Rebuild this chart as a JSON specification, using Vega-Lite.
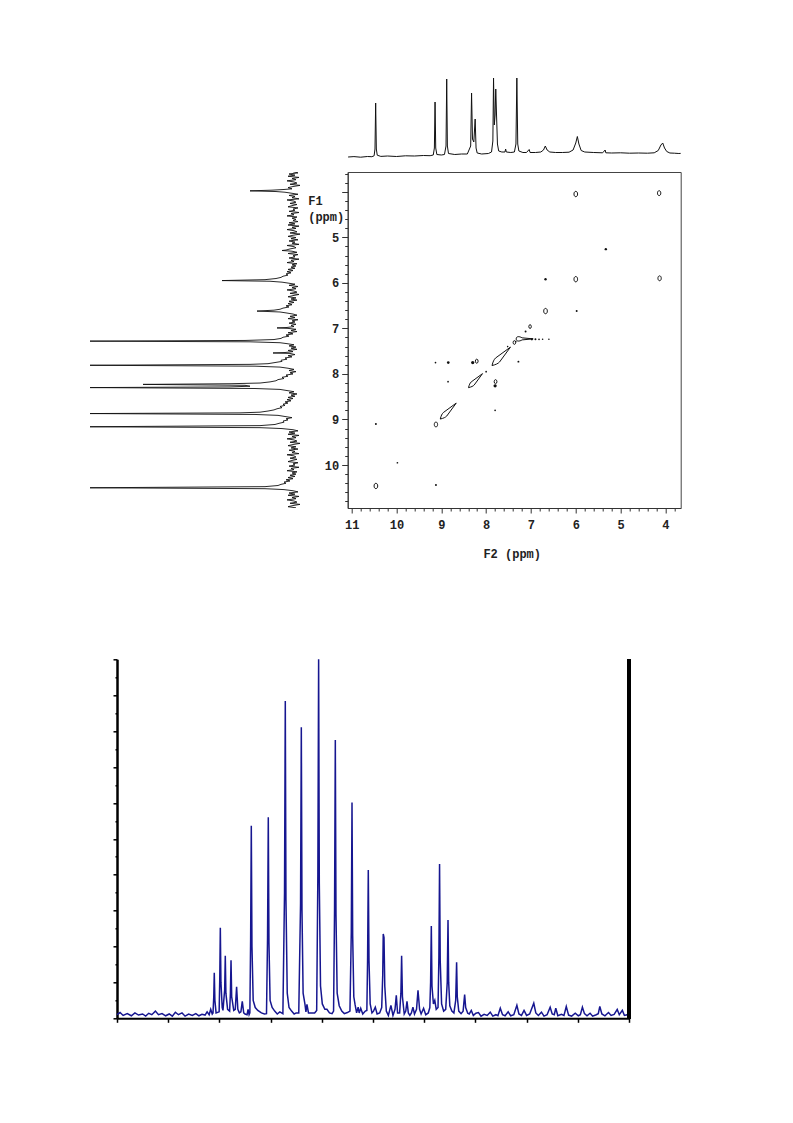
{
  "$schema": "https://vega.github.io/schema/vega-lite/v6.json",
  "background": "white",
  "padding": {"left": 86, "top": 75, "right": 4, "bottom": 4},
  "config": {"view": {"stroke": null}, "axis": {"grid": false}},
  "datasets": {
    "top1h": [
      {"ppm":11.08,"intensity":0},{"ppm":10.95,"intensity":0.4},{"ppm":10.8,"intensity":-0.2},{"ppm":10.65,"intensity":0.5},{"ppm":10.55,"intensity":0.3},{"ppm":10.5,"intensity":1.2},{"ppm":10.48,"intensity":8},{"ppm":10.465,"intensity":54},{"ppm":10.45,"intensity":8},{"ppm":10.43,"intensity":1.8},{"ppm":10.35,"intensity":0.6},{"ppm":10.2,"intensity":1},{"ppm":10.0,"intensity":0.5},{"ppm":9.8,"intensity":1.2},{"ppm":9.6,"intensity":1},{"ppm":9.4,"intensity":1.5},{"ppm":9.25,"intensity":1.3},{"ppm":9.18,"intensity":2},{"ppm":9.155,"intensity":9},{"ppm":9.14,"intensity":55},{"ppm":9.125,"intensity":9},{"ppm":9.1,"intensity":2.5},{"ppm":9.0,"intensity":2},{"ppm":8.93,"intensity":2.5},{"ppm":8.895,"intensity":11},{"ppm":8.88,"intensity":78},{"ppm":8.865,"intensity":11},{"ppm":8.84,"intensity":3.5},{"ppm":8.7,"intensity":2.5},{"ppm":8.55,"intensity":3},{"ppm":8.42,"intensity":3},{"ppm":8.345,"intensity":11},{"ppm":8.325,"intensity":64},{"ppm":8.305,"intensity":18},{"ppm":8.275,"intensity":15},{"ppm":8.245,"intensity":38},{"ppm":8.225,"intensity":9},{"ppm":8.2,"intensity":4},{"ppm":8.1,"intensity":3},{"ppm":7.95,"intensity":3.5},{"ppm":7.88,"intensity":5},{"ppm":7.85,"intensity":16},{"ppm":7.835,"intensity":79},{"ppm":7.818,"intensity":32},{"ppm":7.8,"intensity":42},{"ppm":7.785,"intensity":68},{"ppm":7.768,"intensity":42},{"ppm":7.748,"intensity":13},{"ppm":7.72,"intensity":6},{"ppm":7.65,"intensity":5},{"ppm":7.58,"intensity":5},{"ppm":7.565,"intensity":8},{"ppm":7.55,"intensity":5},{"ppm":7.45,"intensity":4.5},{"ppm":7.37,"intensity":5},{"ppm":7.335,"intensity":13},{"ppm":7.315,"intensity":79},{"ppm":7.295,"intensity":13},{"ppm":7.27,"intensity":6},{"ppm":7.18,"intensity":4.5},{"ppm":7.1,"intensity":4.5},{"ppm":7.04,"intensity":7.5},{"ppm":7.02,"intensity":4.5},{"ppm":6.9,"intensity":4.5},{"ppm":6.78,"intensity":5},{"ppm":6.72,"intensity":7},{"ppm":6.68,"intensity":11},{"ppm":6.64,"intensity":7},{"ppm":6.58,"intensity":5},{"ppm":6.45,"intensity":4.5},{"ppm":6.3,"intensity":4.5},{"ppm":6.15,"intensity":4.8},{"ppm":6.06,"intensity":7},{"ppm":6.0,"intensity":14},{"ppm":5.965,"intensity":20.5},{"ppm":5.93,"intensity":13},{"ppm":5.88,"intensity":6.5},{"ppm":5.8,"intensity":5},{"ppm":5.6,"intensity":4.5},{"ppm":5.4,"intensity":4.2},{"ppm":5.345,"intensity":7},{"ppm":5.33,"intensity":4.2},{"ppm":5.2,"intensity":4},{"ppm":5.0,"intensity":4.2},{"ppm":4.8,"intensity":3.8},{"ppm":4.6,"intensity":4},{"ppm":4.4,"intensity":3.8},{"ppm":4.25,"intensity":4.2},{"ppm":4.16,"intensity":6.5},{"ppm":4.1,"intensity":12},{"ppm":4.06,"intensity":14},{"ppm":4.02,"intensity":9},{"ppm":3.97,"intensity":5.5},{"ppm":3.9,"intensity":4},{"ppm":3.8,"intensity":3.8},{"ppm":3.7,"intensity":3.5},{"ppm":3.66,"intensity":3.6}
    ],
    "left1h": [
      {"ppm":3.56,"intensity":-3},{"ppm":3.585,"intensity":-8},{"ppm":3.61,"intensity":1},{"ppm":3.635,"intensity":-5},{"ppm":3.66,"intensity":2},{"ppm":3.685,"intensity":-9},{"ppm":3.71,"intensity":-2},{"ppm":3.735,"intensity":-6},{"ppm":3.76,"intensity":3},{"ppm":3.785,"intensity":-4},{"ppm":3.81,"intensity":-7},{"ppm":3.835,"intensity":0},{"ppm":3.86,"intensity":-10},{"ppm":3.885,"intensity":-3},{"ppm":3.91,"intensity":2},{"ppm":3.935,"intensity":-2},{"ppm":3.95,"intensity":6},{"ppm":3.965,"intensity":18},{"ppm":3.98,"intensity":40},{"ppm":3.995,"intensity":14},{"ppm":4.01,"intensity":5},
      {"ppm":4.03,"intensity":-1},{"ppm":4.055,"intensity":-8},{"ppm":4.08,"intensity":1},{"ppm":4.105,"intensity":-5},{"ppm":4.13,"intensity":-2},{"ppm":4.155,"intensity":-9},{"ppm":4.18,"intensity":3},{"ppm":4.205,"intensity":-4},{"ppm":4.23,"intensity":-6},{"ppm":4.255,"intensity":0},{"ppm":4.28,"intensity":-7},{"ppm":4.305,"intensity":-2},{"ppm":4.33,"intensity":2},{"ppm":4.355,"intensity":-8},{"ppm":4.38,"intensity":-3},{"ppm":4.405,"intensity":-5},{"ppm":4.43,"intensity":1},{"ppm":4.455,"intensity":-9},{"ppm":4.48,"intensity":-1},{"ppm":4.505,"intensity":-4},{"ppm":4.53,"intensity":3},{"ppm":4.555,"intensity":-7},{"ppm":4.58,"intensity":-2},{"ppm":4.605,"intensity":-6},{"ppm":4.63,"intensity":-3},{"ppm":4.655,"intensity":-8},{"ppm":4.68,"intensity":1},{"ppm":4.705,"intensity":-5},{"ppm":4.73,"intensity":2},{"ppm":4.755,"intensity":-9},{"ppm":4.78,"intensity":-2},{"ppm":4.805,"intensity":-6},{"ppm":4.83,"intensity":3},{"ppm":4.855,"intensity":-4},{"ppm":4.88,"intensity":-7},{"ppm":4.905,"intensity":0},{"ppm":4.93,"intensity":-10},{"ppm":4.955,"intensity":-3},{"ppm":4.98,"intensity":2},{"ppm":5.005,"intensity":-6},{"ppm":5.03,"intensity":-1},{"ppm":5.055,"intensity":-8},{"ppm":5.08,"intensity":1},{"ppm":5.105,"intensity":-5},{"ppm":5.13,"intensity":-2},{"ppm":5.155,"intensity":-9},{"ppm":5.18,"intensity":3},{"ppm":5.205,"intensity":-4},{"ppm":5.23,"intensity":-6},{"ppm":5.255,"intensity":0},{"ppm":5.28,"intensity":4},{"ppm":5.29,"intensity":8},{"ppm":5.305,"intensity":-2},{"ppm":5.33,"intensity":-7},{"ppm":5.355,"intensity":2},{"ppm":5.38,"intensity":-8},{"ppm":5.405,"intensity":-3},{"ppm":5.43,"intensity":-5},{"ppm":5.455,"intensity":1},{"ppm":5.48,"intensity":-9},{"ppm":5.505,"intensity":-1},{"ppm":5.53,"intensity":-4},{"ppm":5.555,"intensity":3},{"ppm":5.58,"intensity":-7},{"ppm":5.605,"intensity":-2},{"ppm":5.63,"intensity":-6},{"ppm":5.655,"intensity":-1},{"ppm":5.68,"intensity":-5},{"ppm":5.705,"intensity":2},{"ppm":5.73,"intensity":-3},{"ppm":5.755,"intensity":3},{"ppm":5.78,"intensity":-1},{"ppm":5.805,"intensity":4},{"ppm":5.83,"intensity":2},{"ppm":5.855,"intensity":7},{"ppm":5.88,"intensity":9},{"ppm":5.905,"intensity":14},{"ppm":5.93,"intensity":25},{"ppm":5.95,"intensity":68},{"ppm":5.965,"intensity":20},{"ppm":5.985,"intensity":8},
      {"ppm":6.005,"intensity":2},{"ppm":6.03,"intensity":-5},{"ppm":6.055,"intensity":1},{"ppm":6.08,"intensity":-8},{"ppm":6.105,"intensity":-2},{"ppm":6.13,"intensity":-6},{"ppm":6.155,"intensity":3},{"ppm":6.18,"intensity":-4},{"ppm":6.205,"intensity":-7},{"ppm":6.23,"intensity":0},{"ppm":6.255,"intensity":-9},{"ppm":6.28,"intensity":-3},{"ppm":6.305,"intensity":2},{"ppm":6.33,"intensity":-6},{"ppm":6.355,"intensity":-1},{"ppm":6.38,"intensity":-7},{"ppm":6.405,"intensity":1},{"ppm":6.43,"intensity":-4},{"ppm":6.455,"intensity":2},{"ppm":6.48,"intensity":-2},{"ppm":6.505,"intensity":4},{"ppm":6.53,"intensity":1},{"ppm":6.555,"intensity":7},{"ppm":6.58,"intensity":10},{"ppm":6.6,"intensity":16},{"ppm":6.62,"intensity":33},{"ppm":6.64,"intensity":10},{"ppm":6.66,"intensity":4},
      {"ppm":6.685,"intensity":-3},{"ppm":6.71,"intensity":-7},{"ppm":6.735,"intensity":0},{"ppm":6.76,"intensity":-5},{"ppm":6.785,"intensity":2},{"ppm":6.81,"intensity":-8},{"ppm":6.835,"intensity":-2},{"ppm":6.86,"intensity":-5},{"ppm":6.885,"intensity":1},{"ppm":6.91,"intensity":-6},{"ppm":6.935,"intensity":-1},{"ppm":6.96,"intensity":-4},{"ppm":6.98,"intensity":3},{"ppm":6.99,"intensity":13},{"ppm":7.0,"intensity":2},{"ppm":7.02,"intensity":-6},{"ppm":7.045,"intensity":-1},{"ppm":7.07,"intensity":-7},{"ppm":7.095,"intensity":2},{"ppm":7.12,"intensity":-3},{"ppm":7.145,"intensity":4},{"ppm":7.17,"intensity":1},{"ppm":7.195,"intensity":7},{"ppm":7.22,"intensity":9},{"ppm":7.245,"intensity":16},{"ppm":7.265,"intensity":45},{"ppm":7.28,"intensity":200},{"ppm":7.295,"intensity":40},{"ppm":7.315,"intensity":10},
      {"ppm":7.335,"intensity":3},{"ppm":7.36,"intensity":-4},{"ppm":7.385,"intensity":1},{"ppm":7.41,"intensity":-6},{"ppm":7.435,"intensity":-1},{"ppm":7.46,"intensity":-7},{"ppm":7.485,"intensity":2},{"ppm":7.51,"intensity":-3},{"ppm":7.53,"intensity":5},{"ppm":7.54,"intensity":17},{"ppm":7.55,"intensity":0},{"ppm":7.575,"intensity":-5},{"ppm":7.6,"intensity":2},{"ppm":7.625,"intensity":-2},{"ppm":7.65,"intensity":5},{"ppm":7.675,"intensity":3},{"ppm":7.7,"intensity":9},{"ppm":7.725,"intensity":8},{"ppm":7.75,"intensity":15},{"ppm":7.775,"intensity":22},{"ppm":7.79,"intensity":40},{"ppm":7.81,"intensity":200},{"ppm":7.83,"intensity":35},{"ppm":7.85,"intensity":10},
      {"ppm":7.875,"intensity":2},{"ppm":7.9,"intensity":-4},{"ppm":7.925,"intensity":1},{"ppm":7.95,"intensity":-6},{"ppm":7.975,"intensity":0},{"ppm":8.0,"intensity":-3},{"ppm":8.025,"intensity":4},{"ppm":8.05,"intensity":2},{"ppm":8.075,"intensity":8},{"ppm":8.1,"intensity":6},{"ppm":8.125,"intensity":12},{"ppm":8.15,"intensity":14},{"ppm":8.175,"intensity":20},{"ppm":8.2,"intensity":30},{"ppm":8.215,"intensity":60},{"ppm":8.23,"intensity":147},{"ppm":8.25,"intensity":45},{"ppm":8.27,"intensity":40},{"ppm":8.285,"intensity":60},{"ppm":8.3,"intensity":200},{"ppm":8.32,"intensity":35},{"ppm":8.34,"intensity":10},
      {"ppm":8.365,"intensity":3},{"ppm":8.39,"intensity":-4},{"ppm":8.415,"intensity":1},{"ppm":8.44,"intensity":-7},{"ppm":8.465,"intensity":-1},{"ppm":8.49,"intensity":-5},{"ppm":8.515,"intensity":2},{"ppm":8.54,"intensity":-3},{"ppm":8.565,"intensity":3},{"ppm":8.59,"intensity":-1},{"ppm":8.615,"intensity":5},{"ppm":8.64,"intensity":2},{"ppm":8.665,"intensity":7},{"ppm":8.69,"intensity":5},{"ppm":8.715,"intensity":10},{"ppm":8.74,"intensity":8},{"ppm":8.765,"intensity":13},{"ppm":8.79,"intensity":16},{"ppm":8.815,"intensity":22},{"ppm":8.84,"intensity":30},{"ppm":8.855,"intensity":50},{"ppm":8.87,"intensity":200},{"ppm":8.89,"intensity":35},{"ppm":8.91,"intensity":12},
      {"ppm":8.935,"intensity":5},{"ppm":8.96,"intensity":-2},{"ppm":8.985,"intensity":4},{"ppm":9.01,"intensity":2},{"ppm":9.035,"intensity":7},{"ppm":9.06,"intensity":6},{"ppm":9.085,"intensity":11},{"ppm":9.11,"intensity":15},{"ppm":9.135,"intensity":30},{"ppm":9.16,"intensity":200},{"ppm":9.18,"intensity":30},{"ppm":9.2,"intensity":8},
      {"ppm":9.225,"intensity":-3},{"ppm":9.25,"intensity":-8},{"ppm":9.275,"intensity":1},{"ppm":9.3,"intensity":-5},{"ppm":9.325,"intensity":2},{"ppm":9.35,"intensity":-9},{"ppm":9.375,"intensity":-2},{"ppm":9.4,"intensity":-6},{"ppm":9.425,"intensity":3},{"ppm":9.45,"intensity":-4},{"ppm":9.475,"intensity":-7},{"ppm":9.5,"intensity":0},{"ppm":9.525,"intensity":-10},{"ppm":9.55,"intensity":-3},{"ppm":9.575,"intensity":2},{"ppm":9.6,"intensity":-6},{"ppm":9.625,"intensity":-1},{"ppm":9.65,"intensity":-8},{"ppm":9.675,"intensity":1},{"ppm":9.7,"intensity":-5},{"ppm":9.725,"intensity":-2},{"ppm":9.75,"intensity":-9},{"ppm":9.775,"intensity":3},{"ppm":9.8,"intensity":-4},{"ppm":9.825,"intensity":-6},{"ppm":9.85,"intensity":0},{"ppm":9.875,"intensity":-7},{"ppm":9.9,"intensity":-2},{"ppm":9.925,"intensity":2},{"ppm":9.95,"intensity":-8},{"ppm":9.975,"intensity":-3},{"ppm":10.0,"intensity":-5},{"ppm":10.025,"intensity":1},{"ppm":10.05,"intensity":-9},{"ppm":10.075,"intensity":-1},{"ppm":10.1,"intensity":-4},{"ppm":10.125,"intensity":3},{"ppm":10.15,"intensity":-7},{"ppm":10.175,"intensity":-2},{"ppm":10.2,"intensity":-6},{"ppm":10.225,"intensity":0},{"ppm":10.25,"intensity":-5},{"ppm":10.275,"intensity":2},{"ppm":10.3,"intensity":-3},{"ppm":10.325,"intensity":4},{"ppm":10.35,"intensity":0},{"ppm":10.375,"intensity":6},{"ppm":10.4,"intensity":4},{"ppm":10.425,"intensity":9},{"ppm":10.45,"intensity":12},{"ppm":10.475,"intensity":25},{"ppm":10.5,"intensity":200},{"ppm":10.52,"intensity":25},{"ppm":10.54,"intensity":6},
      {"ppm":10.565,"intensity":-3},{"ppm":10.59,"intensity":-8},{"ppm":10.615,"intensity":1},{"ppm":10.64,"intensity":-5},{"ppm":10.665,"intensity":2},{"ppm":10.69,"intensity":-9},{"ppm":10.715,"intensity":-2},{"ppm":10.74,"intensity":-6},{"ppm":10.765,"intensity":3},{"ppm":10.79,"intensity":-4},{"ppm":10.815,"intensity":-7},{"ppm":10.84,"intensity":0},{"ppm":10.865,"intensity":-10},{"ppm":10.89,"intensity":-3},{"ppm":10.915,"intensity":2},{"ppm":10.94,"intensity":-6}
    ],
    "cosy": [
      {"f2":6.0,"f1":4.05,"contour":"ellipse","vol":6},
      {"f2":4.14,"f1":4.03,"contour":"ellipse","vol":5},
      {"f2":6.0,"f1":5.92,"contour":"ellipse","vol":6},
      {"f2":4.13,"f1":5.9,"contour":"ellipse","vol":5},
      {"f2":6.675,"f1":6.62,"contour":"ellipse","vol":6},
      {"f2":7.02,"f1":6.96,"contour":"ellipse","vol":3},
      {"f2":7.37,"f1":7.31,"contour":"ellipse","vol":3},
      {"f2":7.14,"f1":7.23,"contour":"streak","vol":60},
      {"f2":7.68,"f1":7.63,"contour":"diagonal","vol":83},
      {"f2":8.21,"f1":7.72,"contour":"ellipse","vol":3.5},
      {"f2":7.79,"f1":8.17,"contour":"ellipse","vol":3.5},
      {"f2":8.25,"f1":8.16,"contour":"diagonal","vol":48},
      {"f2":8.86,"f1":8.83,"contour":"diagonal","vol":62},
      {"f2":9.12,"f1":9.11,"contour":"ellipse","vol":5},
      {"f2":10.46,"f1":10.46,"contour":"ellipse","vol":6},
      {"f2":5.33,"f1":5.26,"contour":"dot","vol":1.2},
      {"f2":6.675,"f1":5.92,"contour":"dot","vol":1.2},
      {"f2":5.98,"f1":6.62,"contour":"dot","vol":0.8},
      {"f2":7.12,"f1":7.07,"contour":"dot","vol":0.8},
      {"f2":8.0,"f1":7.95,"contour":"dot","vol":0.6},
      {"f2":8.3,"f1":7.75,"contour":"dot","vol":2.2},
      {"f2":8.845,"f1":7.75,"contour":"dot","vol":1.5},
      {"f2":9.13,"f1":7.75,"contour":"dot","vol":0.6},
      {"f2":7.28,"f1":7.73,"contour":"dot","vol":0.8},
      {"f2":8.85,"f1":8.17,"contour":"dot","vol":0.6},
      {"f2":7.8,"f1":8.26,"contour":"dot","vol":2.2},
      {"f2":7.8,"f1":8.8,"contour":"dot","vol":0.6},
      {"f2":10.46,"f1":9.1,"contour":"dot","vol":0.8},
      {"f2":9.98,"f1":9.95,"contour":"dot","vol":0.6},
      {"f2":9.12,"f1":10.44,"contour":"dot","vol":0.8},
      {"f2":6.98,"f1":7.24,"contour":"dot","vol":1},
      {"f2":6.9,"f1":7.24,"contour":"dot","vol":0.8},
      {"f2":6.82,"f1":7.24,"contour":"dot","vol":0.6},
      {"f2":6.74,"f1":7.24,"contour":"dot","vol":0.5},
      {"f2":6.6,"f1":7.24,"contour":"dot","vol":0.5},
      {"f2":7.34,"f1":7.29,"contour":"dot","vol":0.6},
      {"f2":7.52,"f1":7.4,"contour":"dot","vol":0.5}
    ],
    "ms": [
      {"mz":0,"abundance":1.0},{"mz":0.6,"abundance":1.6},{"mz":1.2,"abundance":0.8},{"mz":2.0,"abundance":1.3},{"mz":2.8,"abundance":0.7},{"mz":3.5,"abundance":1.5},{"mz":4.2,"abundance":0.9},{"mz":5.0,"abundance":1.2},{"mz":5.6,"abundance":0.6},{"mz":6.2,"abundance":1.4},{"mz":6.8,"abundance":1.0},{"mz":7.5,"abundance":2.0},{"mz":8.1,"abundance":1.0},{"mz":8.8,"abundance":1.3},{"mz":9.5,"abundance":0.7},{"mz":10.2,"abundance":1.2},{"mz":10.8,"abundance":0.6},{"mz":11.4,"abundance":1.7},{"mz":12.0,"abundance":1.0},{"mz":12.7,"abundance":1.5},{"mz":13.3,"abundance":0.6},{"mz":14.0,"abundance":1.2},{"mz":14.7,"abundance":0.8},{"mz":15.4,"abundance":1.3},{"mz":16.0,"abundance":0.7},{"mz":16.6,"abundance":1.1},{"mz":17.2,"abundance":0.9},{"mz":17.6,"abundance":1.8},{"mz":18.0,"abundance":1.0},{"mz":18.3,"abundance":2.5},{"mz":18.6,"abundance":1.2},
      {"mz":18.75,"abundance":1.5},{"mz":18.9,"abundance":6},{"mz":19.0,"abundance":12.7},{"mz":19.12,"abundance":5},{"mz":19.35,"abundance":1.5},
      {"mz":19.95,"abundance":1.8},{"mz":20.07,"abundance":11},{"mz":20.18,"abundance":25.2},{"mz":20.3,"abundance":10},{"mz":20.55,"abundance":3},
      {"mz":20.7,"abundance":2.2},{"mz":21.03,"abundance":8},{"mz":21.15,"abundance":17.4},{"mz":21.27,"abundance":7},{"mz":21.6,"abundance":2.5},
      {"mz":22.0,"abundance":2},{"mz":22.15,"abundance":7},{"mz":22.27,"abundance":16.2},{"mz":22.4,"abundance":6},{"mz":22.8,"abundance":2.2},
      {"mz":23.1,"abundance":2.5},{"mz":23.36,"abundance":8.8},{"mz":23.6,"abundance":2.5},{"mz":23.9,"abundance":1.5},
      {"mz":24.2,"abundance":1.8},{"mz":24.47,"abundance":4.7},{"mz":24.75,"abundance":1.5},{"mz":25.0,"abundance":1.2},
      {"mz":25.4,"abundance":1},{"mz":25.6,"abundance":2.5},{"mz":25.8,"abundance":1},
      {"mz":25.95,"abundance":1.5},{"mz":26.1,"abundance":22},{"mz":26.23,"abundance":53.6},{"mz":26.36,"abundance":20},{"mz":26.6,"abundance":5},{"mz":27.0,"abundance":3},{"mz":27.5,"abundance":2.2},{"mz":28.2,"abundance":1.5},{"mz":28.8,"abundance":1.2},{"mz":29.2,"abundance":1.3},
      {"mz":29.4,"abundance":22},{"mz":29.55,"abundance":56},{"mz":29.68,"abundance":21},{"mz":29.9,"abundance":5},{"mz":30.3,"abundance":3},{"mz":30.8,"abundance":2},{"mz":31.3,"abundance":1.2},{"mz":31.8,"abundance":1.8},{"mz":32.4,"abundance":1.3},
      {"mz":32.72,"abundance":35},{"mz":32.87,"abundance":88.4},{"mz":33.0,"abundance":33},{"mz":33.25,"abundance":7},{"mz":33.6,"abundance":3},{"mz":34.1,"abundance":2},{"mz":34.6,"abundance":1.2},{"mz":35.0,"abundance":1.5},{"mz":35.5,"abundance":1.5},
      {"mz":35.85,"abundance":32},{"mz":36.0,"abundance":81.1},{"mz":36.13,"abundance":30},{"mz":36.35,"abundance":7},{"mz":36.7,"abundance":4},{"mz":36.9,"abundance":1.8},{"mz":37.1,"abundance":3.9},{"mz":37.4,"abundance":1.5},{"mz":38.0,"abundance":1.5},{"mz":38.6,"abundance":1.5},{"mz":39.0,"abundance":2.2},
      {"mz":39.23,"abundance":40},{"mz":39.38,"abundance":100},{"mz":39.51,"abundance":38},{"mz":39.75,"abundance":9},{"mz":40.1,"abundance":4},{"mz":40.6,"abundance":2.5},{"mz":41.0,"abundance":2.5},{"mz":41.5,"abundance":1.5},{"mz":42.0,"abundance":1.3},{"mz":42.3,"abundance":2},
      {"mz":42.49,"abundance":30},{"mz":42.64,"abundance":77.5},{"mz":42.77,"abundance":29},{"mz":43.0,"abundance":7},{"mz":43.4,"abundance":3.5},{"mz":43.9,"abundance":2},{"mz":44.4,"abundance":1.3},{"mz":45.0,"abundance":1.6},{"mz":45.5,"abundance":2},
      {"mz":45.76,"abundance":24},{"mz":45.9,"abundance":60.1},{"mz":46.03,"abundance":23},{"mz":46.25,"abundance":6},{"mz":46.5,"abundance":3.8},{"mz":46.8,"abundance":1.5},{"mz":47.1,"abundance":3.1},{"mz":47.3,"abundance":1.5},{"mz":47.6,"abundance":2.8},{"mz":48.0,"abundance":1.2},{"mz":48.5,"abundance":2.0},{"mz":48.8,"abundance":2.2},
      {"mz":48.94,"abundance":16},{"mz":49.08,"abundance":41.3},{"mz":49.22,"abundance":16},{"mz":49.45,"abundance":4},{"mz":49.8,"abundance":1.5},{"mz":50.1,"abundance":2},{"mz":50.45,"abundance":3.1},{"mz":50.8,"abundance":1.2},{"mz":51.3,"abundance":1.5},{"mz":51.7,"abundance":3},
      {"mz":51.9,"abundance":12},{"mz":52.0,"abundance":23.5},{"mz":52.15,"abundance":22.5},{"mz":52.3,"abundance":9},{"mz":52.6,"abundance":2},{"mz":53.0,"abundance":0.8},{"mz":53.5,"abundance":3.6},{"mz":53.9,"abundance":0.8},{"mz":54.3,"abundance":2.5},
      {"mz":54.55,"abundance":6.4},{"mz":54.8,"abundance":1.5},{"mz":55.2,"abundance":1.5},
      {"mz":55.45,"abundance":7},{"mz":55.59,"abundance":17.4},{"mz":55.75,"abundance":6},{"mz":56.1,"abundance":1.2},{"mz":56.4,"abundance":2},{"mz":56.64,"abundance":4.7},{"mz":56.9,"abundance":1.5},{"mz":57.2,"abundance":0.8},{"mz":57.5,"abundance":1.5},{"mz":57.8,"abundance":3.1},{"mz":58.1,"abundance":1.2},{"mz":58.5,"abundance":2.5},
      {"mz":58.79,"abundance":7.8},{"mz":59.1,"abundance":2.5},{"mz":59.4,"abundance":1.2},{"mz":59.88,"abundance":2.8},{"mz":60.3,"abundance":1.0},{"mz":60.8,"abundance":1.5},{"mz":61.1,"abundance":3},
      {"mz":61.25,"abundance":10},{"mz":61.39,"abundance":25.7},{"mz":61.52,"abundance":9},{"mz":61.8,"abundance":4},{"mz":62.07,"abundance":5},{"mz":62.35,"abundance":2.5},{"mz":62.7,"abundance":3},
      {"mz":62.87,"abundance":17},{"mz":63.0,"abundance":43},{"mz":63.13,"abundance":16},{"mz":63.4,"abundance":4},{"mz":63.8,"abundance":2},{"mz":64.2,"abundance":2.5},{"mz":64.5,"abundance":10},
      {"mz":64.65,"abundance":27.4},{"mz":64.78,"abundance":10},{"mz":65.0,"abundance":3.5},{"mz":65.4,"abundance":2},{"mz":65.8,"abundance":1.5},{"mz":66.15,"abundance":5},
      {"mz":66.33,"abundance":15.6},{"mz":66.46,"abundance":6},{"mz":66.75,"abundance":2},{"mz":67.2,"abundance":1.3},{"mz":67.6,"abundance":2},{"mz":67.9,"abundance":6.6},{"mz":68.1,"abundance":3},{"mz":68.5,"abundance":1.4},
      {"mz":68.8,"abundance":1.2},{"mz":69.2,"abundance":2.2},{"mz":69.6,"abundance":0.8},{"mz":70.1,"abundance":1.4},{"mz":70.6,"abundance":1.6},{"mz":71.1,"abundance":0.6},{"mz":71.7,"abundance":1.1},{"mz":72.3,"abundance":0.8},{"mz":72.9,"abundance":1.7},{"mz":73.4,"abundance":0.6},{"mz":74.0,"abundance":1.0},{"mz":74.4,"abundance":0.7},{"mz":74.86,"abundance":2.8},{"mz":75.3,"abundance":1.0},{"mz":75.8,"abundance":0.7},{"mz":76.4,"abundance":1.8},{"mz":76.9,"abundance":0.7},{"mz":77.5,"abundance":1.0},{"mz":78.1,"abundance":3.6},{"mz":78.5,"abundance":1.2},{"mz":79.0,"abundance":0.8},{"mz":79.5,"abundance":2.2},{"mz":80.0,"abundance":0.8},{"mz":80.6,"abundance":1.2},{"mz":81.4,"abundance":4.2},{"mz":81.8,"abundance":1.5},{"mz":82.3,"abundance":0.8},{"mz":82.9,"abundance":1.7},{"mz":83.4,"abundance":0.6},{"mz":84.0,"abundance":1.0},{"mz":84.6,"abundance":3.1},{"mz":85.0,"abundance":1.2},{"mz":85.4,"abundance":1.0},{"mz":85.7,"abundance":2.8},{"mz":86.1,"abundance":0.7},{"mz":86.8,"abundance":1.1},{"mz":87.3,"abundance":0.8},{"mz":87.75,"abundance":3.3},{"mz":88.2,"abundance":0.9},{"mz":88.8,"abundance":0.6},{"mz":89.5,"abundance":1.4},{"mz":90.1,"abundance":0.7},{"mz":90.5,"abundance":1.0},{"mz":90.9,"abundance":3.1},{"mz":91.3,"abundance":1.3},{"mz":91.8,"abundance":0.7},{"mz":92.4,"abundance":1.4},{"mz":92.9,"abundance":0.6},{"mz":93.6,"abundance":1.0},{"mz":94.0,"abundance":1.3},{"mz":94.3,"abundance":3.3},{"mz":94.7,"abundance":1.2},{"mz":95.3,"abundance":0.7},{"mz":96.0,"abundance":1.6},{"mz":96.5,"abundance":0.8},{"mz":97.1,"abundance":1.1},{"mz":97.7,"abundance":2.5},{"mz":98.1,"abundance":1.0},{"mz":98.7,"abundance":2.2},{"mz":99.1,"abundance":0.8},{"mz":99.6,"abundance":1.0},{"mz":100,"abundance":0.9}
    ]
  },
  "bounds": "flush",
  "spacing": 584.3,
  "resolve": {"scale": {"x": "independent", "y": "independent"}},
  "vconcat": [
    {
      "bounds": "flush",
      "spacing": 97,
      "resolve": {"scale": {"x": "independent", "y": "independent"}},
      "vconcat": [
        {
          "bounds": "flush",
          "spacing": 47.7,
          "resolve": {"scale": {"x": "independent", "y": "independent"}},
          "hconcat": [
            {
              "width": 214, "height": 85,
              "data": {"values": [{"blank": 0}]},
              "mark": {"type": "point", "opacity": 0}
            },
            {
              "width": 333, "height": 85,
              "data": {"name": "top1h"},
              "mark": {"type": "line", "color": "#111", "strokeWidth": 1},
              "encoding": {
                "x": {"field": "ppm", "type": "quantitative", "scale": {"domain": [3.659, 11.089], "reverse": true, "nice": false, "zero": false}, "axis": null},
                "y": {"field": "intensity", "type": "quantitative", "scale": {"domain": [-3, 82], "nice": false, "zero": false}, "axis": null}
              }
            }
          ]
        },
        {
          "bounds": "flush",
          "spacing": 47.7,
          "resolve": {"scale": {"x": "independent", "y": "independent"}},
          "hconcat": [
            {
              "width": 214, "height": 336,
              "data": {"name": "left1h"},
              "mark": {"type": "line", "color": "#111", "strokeWidth": 0.9, "clip": true},
              "encoding": {
                "x": {"field": "intensity", "type": "quantitative", "scale": {"domain": [-10, 204], "reverse": true, "nice": false, "zero": false}, "axis": null},
                "y": {"field": "ppm", "type": "quantitative", "scale": {"domain": [3.566, 10.944], "reverse": true, "nice": false, "zero": false}, "axis": null},
                "order": {"field": "ppm", "type": "quantitative"}
              }
            },
            {
              "width": 333, "height": 336,
              "view": {"stroke": "#444", "strokeWidth": 1},
              "data": {"name": "cosy"},
              "encoding": {
                "x": {
                  "field": "f2", "type": "quantitative",
                  "scale": {"domain": [3.659, 11.089], "reverse": true, "nice": false, "zero": false},
                  "axis": {
                    "values": [3.8,4,4.2,4.4,4.6,4.8,5,5.2,5.4,5.6,5.8,6,6.2,6.4,6.6,6.8,7,7.2,7.4,7.6,7.8,8,8.2,8.4,8.6,8.8,9,9.2,9.4,9.6,9.8,10,10.2,10.4,10.6,10.8,11],
                    "labelExpr": "abs(datum.value - round(datum.value)) < 0.01 ? format(datum.value, 'd') : ''",
                    "tickSize": {"condition": {"test": "abs(datum.value - round(datum.value)) < 0.01", "value": 5}, "value": 3},
                    "tickColor": "#333", "domainColor": "#333",
                    "labelFont": "Liberation Mono", "labelFontSize": 12, "labelFontWeight": "bold", "labelColor": "#222",
                    "labelPadding": 6, "labelOverlap": false, "labelFlush": false,
                    "title": "F2 (ppm)", "titleFont": "Liberation Mono", "titleFontSize": 12, "titleFontWeight": "bold", "titleColor": "#222",
                    "titleX": 164, "titleY": 45, "titleBaseline": "middle", "titleAlign": "center"
                  }
                },
                "y": {
                  "field": "f1", "type": "quantitative",
                  "scale": {"domain": [3.566, 10.944], "reverse": true, "nice": false, "zero": false},
                  "axis": {
                    "values": [3.6,3.8,4,4.2,4.4,4.6,4.8,5,5.2,5.4,5.6,5.8,6,6.2,6.4,6.6,6.8,7,7.2,7.4,7.6,7.8,8,8.2,8.4,8.6,8.8,9,9.2,9.4,9.6,9.8,10,10.2,10.4,10.6,10.8],
                    "labelExpr": "abs(datum.value - round(datum.value)) < 0.01 && datum.value > 4.5 ? format(datum.value, 'd') : ''",
                    "tickSize": {"condition": {"test": "abs(datum.value - round(datum.value)) < 0.01", "value": 6}, "value": 3},
                    "tickColor": "#333", "domainColor": "#333",
                    "labelFont": "Liberation Mono", "labelFontSize": 12, "labelFontWeight": "bold", "labelColor": "#222",
                    "labelPadding": 3, "labelOverlap": false, "labelFlush": false,
                    "title": ["F1", "(ppm)"], "titleFont": "Liberation Mono", "titleFontSize": 12, "titleFontWeight": "bold", "titleColor": "#222",
                    "titleAngle": 0, "titleAlign": "left", "titleBaseline": "middle", "titleX": -40, "titleY": 28, "titleLineHeight": 16
                  }
                }
              },
              "layer": [
                {
                  "transform": [{"filter": "datum.contour !== 'dot'"}],
                  "mark": {"type": "point", "filled": false, "stroke": "#111", "strokeWidth": 1, "opacity": 1},
                  "encoding": {
                    "shape": {"field": "contour", "type": "nominal", "legend": null,
                      "scale": {"domain": ["diagonal", "ellipse", "streak"],
                        "range": [
                          "M-0.85,0.85 C-0.75,0.45 -0.65,0.25 -0.5,0.1 L1,-1 L-0.1,0.5 C-0.25,0.65 -0.45,0.75 -0.85,0.85 Z",
                          "M0,-1 C0.9,-1 0.9,1 0,1 C-0.9,1 -0.9,-1 0,-1 Z",
                          "M-1,0 C-1,-0.35 -0.6,-0.3 -0.3,-0.12 L1,0 L-0.3,0.12 C-0.6,0.3 -1,0.35 -1,0 Z"
                        ]}},
                    "size": {"field": "vol", "type": "quantitative", "legend": null, "scale": {"domain": [0, 100], "range": [0, 480], "zero": true}}
                  }
                },
                {
                  "transform": [{"filter": "datum.contour === 'dot'"}],
                  "mark": {"type": "circle", "color": "#111", "opacity": 1},
                  "encoding": {
                    "size": {"field": "vol", "type": "quantitative", "legend": null, "scale": {"domain": [0, 100], "range": [0, 480], "zero": true}}
                  }
                }
              ]
            }
          ]
        }
      ]
    },
    {
      "bounds": "flush",
      "spacing": 0,
      "resolve": {"scale": {"x": "independent", "y": "independent"}},
      "hconcat": [
        {
          "width": 30.7, "height": 359,
          "data": {"values": [{"blank": 0}]},
          "mark": {"type": "point", "opacity": 0}
        },
        {
          "width": 512, "height": 359,
          "data": {"name": "ms"},
          "layer": [
            {
              "mark": {"type": "line", "color": "#161690", "strokeWidth": 1.5},
              "encoding": {
                "x": {"field": "mz", "type": "quantitative", "scale": {"domain": [0, 100], "nice": false, "zero": false},
                  "axis": {"values": [0,10,20,30,40,50,60,70,80,90,100], "labels": false, "title": null, "tickSize": 4, "tickWidth": 1.5, "tickColor": "#000", "domainColor": "#000", "domainWidth": 2}},
                "y": {"field": "abundance", "type": "quantitative", "scale": {"domain": [0, 100], "nice": false, "zero": false},
                  "axis": {"values": [0,5,10,15,20,25,30,35,40,45,50,55,60,65,70,75,80,85,90,95,100], "labels": false, "title": null,
                    "tickSize": {"condition": {"test": "datum.value % 10 === 0", "value": 4}, "value": 2},
                    "tickWidth": 1.5, "tickColor": "#000", "domainColor": "#000", "domainWidth": 2.5}}
              }
            },
            {
              "mark": {"type": "rule", "color": "#000", "strokeWidth": 2.5},
              "encoding": {"x": {"datum": 100}}
            }
          ]
        }
      ]
    }
  ]
}
